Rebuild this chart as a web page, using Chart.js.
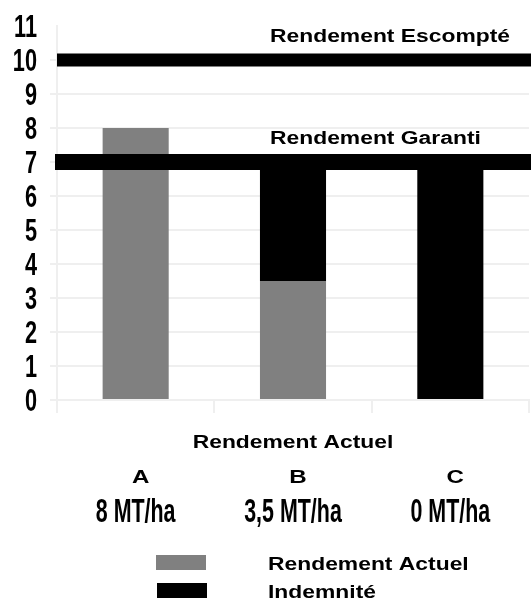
<!DOCTYPE html>
<html>
<head>
<meta charset="utf-8">
<script src="https://cdn.jsdelivr.net/npm/chart.js@4/dist/chart.umd.min.js"></script>
<style>
  html, body { margin: 0; padding: 0; background: #ffffff; }
  #wrap { width: 531px; height: 602px; }
</style>
</head>
<body>
<div id="wrap"><canvas id="c" width="531" height="602"></canvas></div>
<script>
// Yield per farm (MT/ha) and the compensation that tops it up to the guarantee
const categories = ['A', 'B', 'C'];
const yieldLabels = ['8 MT/ha', '3,5 MT/ha', '0 MT/ha'];
const actualYield = [8, 3.5, 0];
const indemnity = [0, 3.5, 7];
const seriesNames = ['Rendement Actuel', 'Indemnité'];
const referenceLevels = [10, 7];
const referenceNames = ['Rendement Escompté', 'Rendement Garanti'];
const yTicks = [0, 1, 2, 3, 4, 5, 6, 7, 8, 9, 10, 11];
const xTitle = 'Rendement Actuel';

// Styling
const GRID = '#efefef';
const SERIES_COLORS = ['#808080', '#000000'];
const REF_WIDTHS = [13, 16];
const WIDE_FONT = 'bold 18px "Liberation Sans", Arial, sans-serif';
const WIDE_SX = 1.27;
const TALL_FONT = 'bold 31px "Liberation Sans", Arial, sans-serif';
const TALL_SX = 0.7;
const VALUE_FONT = 'bold 34px "Liberation Sans", Arial, sans-serif';
const VALUE_SX = 0.63;

// Draws text stretched horizontally by sx
function stretchedText(ctx, text, x, y, font, sx, align) {
  ctx.save();
  ctx.font = font;
  const w = ctx.measureText(text).width * sx;
  const left = align === 'center' ? x - w / 2 : align === 'right' ? x - w : x;
  ctx.translate(left, y);
  ctx.scale(sx, 1);
  ctx.textAlign = 'left';
  ctx.textBaseline = 'alphabetic';
  ctx.fillStyle = '#000';
  ctx.fillText(text, 0, 0);
  ctx.restore();
}

const overlay = {
  id: 'overlay',
  afterDatasetsDraw(chart) {
    const { ctx, chartArea, scales: { y } } = chart;
    referenceLevels.forEach((v, i) => {
      const py = y.getPixelForValue(v);
      ctx.save();
      ctx.strokeStyle = '#000';
      ctx.lineWidth = REF_WIDTHS[i];
      ctx.beginPath();
      ctx.moveTo(chartArea.left - (i ? 2 : 0), py);
      ctx.lineTo(chart.width, py);
      ctx.stroke();
      ctx.restore();
      stretchedText(ctx, referenceNames[i], chartArea.left + 213, py - 18.5, WIDE_FONT, WIDE_SX, 'left');
    });
  },
  afterDraw(chart) {
    const { ctx, chartArea, scales: { x, y } } = chart;
    // y tick labels
    y.ticks.forEach(t => {
      const py = y.getPixelForValue(t.value);
      stretchedText(ctx, String(t.value), chartArea.left - 20, py + 11, TALL_FONT, TALL_SX, 'right');
    });
    // axis title and category labels
    stretchedText(ctx, xTitle, (chartArea.left + chartArea.right) / 2, 448, WIDE_FONT, WIDE_SX, 'center');
    categories.forEach((c, i) => {
      const px = x.getPixelForValue(i);
      stretchedText(ctx, c, px + 5, 483, 'bold 19px "Liberation Sans", Arial, sans-serif', WIDE_SX, 'center');
      stretchedText(ctx, yieldLabels[i], px, 522, VALUE_FONT, VALUE_SX, 'center');
    });
    // legend
    chart.data.datasets.forEach((ds, i) => {
      const rowY = 562 + i * 28;
      ctx.save();
      ctx.fillStyle = ds.backgroundColor;
      ctx.fillRect(156 + i, rowY - 7, 50, 15);
      ctx.restore();
      stretchedText(ctx, ds.label, 268, rowY + 8, WIDE_FONT, WIDE_SX, 'left');
    });
  }
};

new Chart(document.getElementById('c'), {
  type: 'bar',
  data: {
    labels: categories,
    datasets: [
      { label: seriesNames[0], data: actualYield, backgroundColor: SERIES_COLORS[0] },
      { label: seriesNames[1], data: indemnity, backgroundColor: SERIES_COLORS[1] }
    ]
  },
  options: {
    responsive: false,
    animation: false,
    devicePixelRatio: 1,
    layout: { padding: { top: 26, right: 2, left: 0, bottom: 0 } },
    datasets: { bar: { barPercentage: 0.42, categoryPercentage: 1, borderWidth: 0 } },
    plugins: { legend: { display: false }, tooltip: { enabled: false } },
    scales: {
      x: {
        stacked: true,
        grid: { offset: true, drawOnChartArea: false, tickLength: 13, color: GRID, lineWidth: 2 },
        border: { color: GRID, width: 2 },
        ticks: { display: false },
        afterFit: s => { s.height = 202; }
      },
      y: {
        stacked: true,
        min: 0,
        max: 11,
        afterBuildTicks: s => { s.ticks = yTicks.map(v => ({ value: v })); },
        ticks: { display: false },
        grid: {
          color: c => (c.tick && c.tick.value === 11 ? 'rgba(0,0,0,0)' : GRID),
          lineWidth: 2,
          tickLength: 7
        },
        border: { color: GRID, width: 2 },
        afterFit: s => { s.width = 57; }
      }
    }
  },
  plugins: [overlay]
});
</script>
</body>
</html>
